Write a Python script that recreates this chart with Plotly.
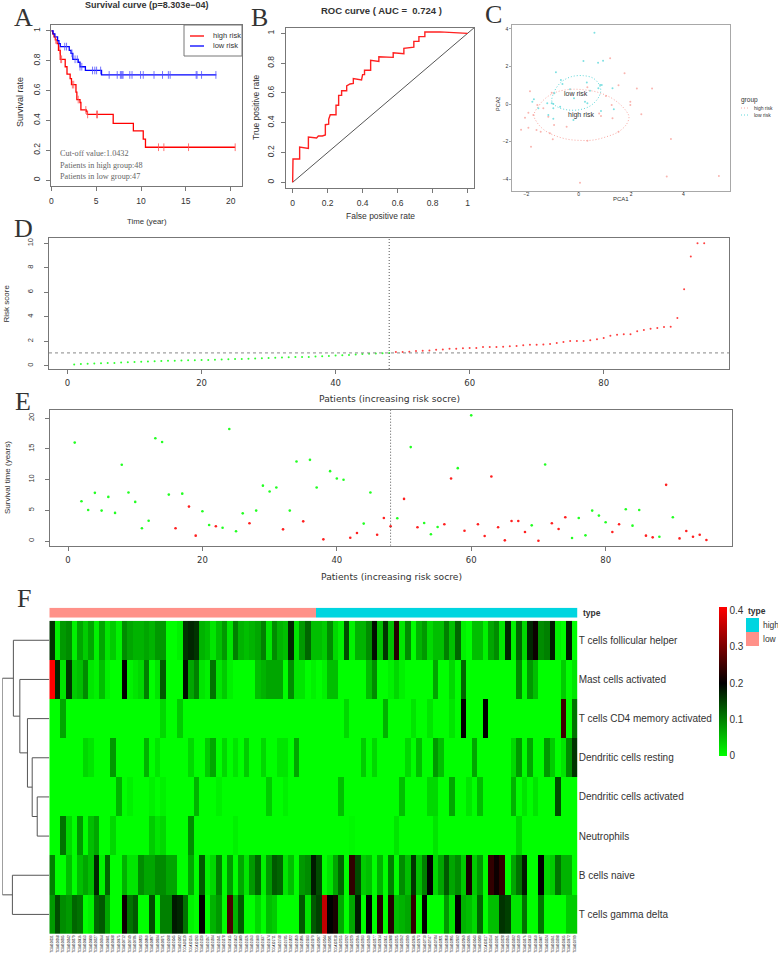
import plotly.graph_objects as go

W = 778
H = 955

# Panel A: Kaplan-Meier steps
high_time = [0, 0.15, 0.3, 0.45, 0.65, 0.8, 1.0, 1.4, 1.55, 1.75, 2.1, 2.25, 2.75, 2.85, 3.2, 3.3, 3.9, 4.0, 6.9, 9.15, 10.25, 10.5, 20.5]
high_surv = [1.0, 0.98, 0.96, 0.94, 0.915, 0.87, 0.81, 0.81, 0.76, 0.71, 0.68, 0.64, 0.59, 0.54, 0.52, 0.47, 0.46, 0.44, 0.38, 0.33, 0.275, 0.22, 0.22]
high_censor = [0.5, 0.95, 1.05, 1.15, 2.35, 2.5, 3.0, 3.85, 4.05, 5.05, 5.15, 11.95, 12.55, 15.3, 20.5]
low_time = [0, 0.2, 0.4, 0.7, 0.85, 1.0, 2.0, 2.2, 2.4, 3.0, 3.2, 3.8, 5.6, 18.4]
low_surv = [1.0, 0.98, 0.96, 0.935, 0.915, 0.895, 0.87, 0.85, 0.81, 0.79, 0.76, 0.735, 0.705, 0.705]
low_censor = [1.5, 1.7, 2.3, 2.65, 2.9, 3.2, 3.4, 4.6, 4.85, 5.05, 5.5, 6.45, 7.35, 7.7, 7.8, 7.9, 8.0, 8.75, 9.0, 9.95, 10.25, 11.45, 12.4, 13.05, 13.25, 16.15, 16.25, 16.75, 18.35]

# Panel B: ROC curve
roc_fpr = [0, 0.002, 0.04, 0.04, 0.04, 0.09, 0.09, 0.137, 0.147, 0.17, 0.18, 0.187, 0.187, 0.206, 0.206, 0.215, 0.248, 0.248, 0.263, 0.263, 0.28, 0.28, 0.309, 0.309, 0.328, 0.347, 0.347, 0.394, 0.4, 0.411, 0.411, 0.446, 0.446, 0.493, 0.493, 0.575, 0.575, 0.636, 0.636, 0.661, 0.693, 0.693, 0.722, 0.722, 0.756, 0.756, 0.842, 1.0]
roc_tpr = [0, 0.157, 0.157, 0.177, 0.237, 0.228, 0.304, 0.298, 0.311, 0.311, 0.318, 0.318, 0.387, 0.391, 0.423, 0.454, 0.454, 0.517, 0.517, 0.584, 0.584, 0.615, 0.615, 0.647, 0.66, 0.664, 0.696, 0.687, 0.723, 0.723, 0.752, 0.752, 0.819, 0.812, 0.843, 0.839, 0.87, 0.864, 0.899, 0.904, 0.908, 0.946, 0.946, 0.978, 0.978, 1.009, 1.01, 1.0]
diag_x = [0, 1.037]
diag_y = [0, 1.037]

# Panel C: PCA
pca_high_x = [-2.20, -2.05, -1.92, -1.82, -1.86, -1.92, -1.73, -1.58, -1.61, -1.45, -1.35, -1.16, -1.10, -0.99, -1.03, -0.94, -0.46, 0.05, 0.33, 0.33, 0.78, 0.85, 1.04, 1.29, 1.20, 1.52, 1.75, 1.97, 1.97, 2.22, 2.39, 2.80, 3.52, 3.36, 5.35, 1.52, 1.26]
pca_high_y = [-1.37, -0.73, -1.26, -2.28, 0.68, -0.46, -0.59, -0.05, -1.39, -1.48, -0.23, -0.68, -1.56, -1.88, 0.60, -1.12, -1.21, -4.2, -1.96, 0.89, -0.50, -0.64, 0.43, -0.76, 2.44, 1.0, 1.64, 0.12, -0.05, 0.82, -0.55, 0.82, -1.87, -3.86, -3.84, -1.48, -0.05]
pca_low_x = [-1.77, -1.71, -1.54, -1.20, -1.03, -0.97, -0.93, -0.87, -0.68, -0.62, -0.33, -0.18, 0.18, 0.31, 0.24, 0.33, 0.60, 0.74, 0.93, 0.82, 0.88, 1.29, 0.85, 1.34, -0.20, -0.97, -1.16, 0.75, 0.43, -0.71, -0.97]
pca_low_y = [0.12, 0.25, -0.23, 0.04, 0.04, 0, 0.57, 1.69, 1.28, 1.07, 0.78, 0.30, 2.29, 1.14, 0.12, 0.04, 3.80, 2.20, 2.31, 1.01, 1.01, 0.84, -0.37, -0.28, -0.85, -0.78, -0.59, 0.84, 0.71, -0.14, -0.23]
ell_high_x = [-1.71, -1.50, -1.22, -0.84, -0.33, 0.18, 0.69, 1.20, 1.58, 1.83, 1.92, 1.83, 1.52, 1.07, 0.56, 0.05, -0.46, -0.97, -1.35, -1.61, -1.71]
ell_high_y = [-0.59, -0.05, 0.36, 0.64, 0.78, 0.76, 0.64, 0.36, -0.02, -0.41, -0.68, -1.07, -1.48, -1.74, -1.92, -1.94, -1.87, -1.65, -1.35, -0.94, -0.59]
ell_low_x = [-1.03, -0.90, -0.65, -0.27, 0.18, 0.56, 0.79, 0.84, 0.71, 0.43, 0.05, -0.39, -0.78, -0.99, -1.03]
ell_low_y = [0.21, 0.75, 1.19, 1.46, 1.51, 1.37, 1.01, 0.66, 0.25, -0.11, -0.30, -0.32, -0.18, 0.04, 0.21]

# Panel D: risk score per patient, green then red
patient_ids = list(range(1, 96))
risk_score = [0.1, 0.13, 0.15, 0.17, 0.2, 0.21, 0.23, 0.26, 0.29, 0.3,
              0.32, 0.34, 0.37, 0.39, 0.4, 0.41, 0.42, 0.44, 0.45, 0.46,
              0.47, 0.49, 0.5, 0.52, 0.54, 0.55, 0.57, 0.59, 0.6, 0.63,
              0.65, 0.67, 0.69, 0.7, 0.71, 0.72, 0.75, 0.77, 0.8, 0.83,
              0.86, 0.88, 0.91, 0.95, 0.97, 0.99, 1.02, 1.04,
              1.12, 1.12, 1.14, 1.2, 1.23, 1.25, 1.31, 1.33, 1.39, 1.39,
              1.42, 1.44, 1.44, 1.53, 1.53, 1.53, 1.55, 1.58, 1.61, 1.66,
              1.72, 1.72, 1.74, 1.77, 1.85, 1.93, 2.02, 2.02, 2.02, 2.07,
              2.15, 2.26, 2.45, 2.53, 2.56, 2.56, 2.81, 2.92, 3.02, 3.08,
              3.16, 3.19, 3.9, 6.24, 8.91, 10, 10]
cutoff_value = 1.0432
cutoff_patient = 48

# Panel E: survival time, status g = alive, r = dead
surv_years = [16.0, 6.47, 5.05, 7.83, 4.95, 7.17, 4.57, 12.4, 7.88, 6.36,
              2.07, 3.3, 16.7, 16.1, 7.55, 2.07, 7.7, 5.6, 0.87, 4.84,
              2.6, 2.4, 2.17, 18.2, 1.58, 4.5, 2.88, 4.95, 9.0, 8.04,
              8.7, 1.9, 4.95, 12.93, 3.2, 13.2, 8.7, 0.27, 11.36, 10.16,
              9.95, 0.54, 1.3, 2.83, 7.88, 1.03, 3.75, 2.4, 3.7, 6.85,
              15.27, 2.23, 2.93, 1.09, 2.28, 2.72, 10.16, 11.85, 1.68, 20.43,
              2.72, 0.82, 10.49, 2.23, 0.11, 3.26, 3.26, 1.47, 2.55, 0.05,
              12.45, 2.88, 1.96, 3.86, 0.49, 3.75, 0.92, 4.95, 4.13, 3.04,
              1.47, 2.72, 5.16, 2.5, 5.05, 0.87, 0.6, 0.7, 9.13, 3.86,
              0.43, 1.63, 0.7, 1.03, 0.16]
surv_status = ["g", "g", "g", "g", "g", "g", "g", "g", "g", "g",
               "g", "g", "g", "g", "g", "r", "g", "r", "r", "g",
               "g", "r", "g", "g", "g", "g", "r", "g", "g", "g",
               "g", "r", "g", "g", "r", "g", "g", "r", "g", "g",
               "g", "r", "r", "g", "g", "r", "r", "r", "g", "r",
               "g", "r", "g", "g", "g", "r", "r", "g", "r", "g",
               "r", "r", "r", "r", "r", "r", "r", "r", "g", "r",
               "g", "r", "r", "r", "g", "g", "g", "g", "g", "g",
               "r", "r", "g", "g", "g", "r", "r", "g", "r", "g",
               "r", "r", "r", "r", "r"]

# Panel F: heatmap, 95 samples
cell_types = ["T cells follicular helper", "Mast cells activated", "T cells CD4 memory activated",
              "Dendritic cells resting", "Dendritic cells activated", "Neutrophils",
              "B cells naive", "T cells gamma delta"]
tfh = [0.16, 0.01, 0.08, 0.09, 0.01, 0.07, 0.04, 0.07, 0.01, 0.07,
       0.02, 0.04, 0.01, 0.09, 0.07, 0.06, 0.06, 0.07, 0.06, 0.08,
       0.08, 0, 0, 0.01, 0.16, 0.17, 0.16, 0.06, 0.05, 0.02,
       0.05, 0.08, 0.02, 0.1, 0.06, 0.05, 0.06, 0.07, 0.1, 0.02,
       0.09, 0.06, 0.05, 0.17, 0.02, 0.08, 0.12, 0.05, 0.05, 0.04,
       0.09, 0.03, 0.01, 0.14, 0.01, 0.06, 0.06, 0.09, 0.19, 0.05,
       0.16, 0.05, 0.23, 0.02, 0.09, 0, 0.06, 0.08, 0.03, 0.05,
       0.05, 0.1, 0.05, 0.12, 0.01, 0, 0.05, 0.05, 0.01, 0.07,
       0.09, 0.02, 0.17, 0.01, 0.12, 0.03, 0.17, 0.21, 0.09, 0.1,
       0.18, 0.01, 0, 0.18, 0]
mast = [0.41, 0.17, 0.02, 0.16, 0.04, 0.05, 0.09, 0.02, 0.01, 0.05,
        0.01, 0, 0, 0.2, 0.01, 0.02, 0.03, 0.1, 0, 0.02,
        0.13, 0, 0, 0, 0.19, 0.07, 0.1, 0.02, 0.01, 0.11,
        0.02, 0.04, 0.01, 0, 0, 0, 0, 0.05, 0.06, 0.07,
        0.07, 0.07, 0, 0.09, 0.02, 0.02, 0, 0.01, 0, 0.01,
        0.05, 0.05, 0, 0, 0, 0, 0, 0.05, 0.09, 0,
        0, 0.01, 0.03, 0.01, 0, 0, 0, 0, 0, 0.07,
        0, 0, 0.03, 0, 0.12, 0, 0, 0, 0, 0,
        0, 0, 0, 0, 0.09, 0, 0.08, 0.05, 0, 0,
        0, 0, 0.04, 0, 0.02]
cd4 = [0, 0, 0.07, 0, 0, 0, 0, 0, 0, 0,
       0, 0, 0, 0, 0, 0, 0, 0, 0, 0,
       0.03, 0, 0, 0.04, 0, 0, 0, 0, 0, 0,
       0, 0, 0, 0, 0, 0, 0, 0, 0, 0,
       0, 0, 0, 0, 0, 0, 0, 0, 0, 0,
       0, 0, 0, 0.03, 0, 0, 0, 0, 0, 0,
       0.06, 0, 0, 0, 0, 0.02, 0, 0, 0.02, 0,
       0, 0, 0.02, 0, 0.2, 0, 0, 0, 0.2, 0,
       0, 0, 0, 0, 0, 0, 0, 0, 0, 0,
       0, 0, 0.25, 0, 0.11]
dc_rest = [0, 0, 0, 0, 0, 0, 0.03, 0.02, 0, 0,
           0, 0.08, 0, 0, 0, 0, 0, 0.06, 0, 0.02,
           0, 0, 0, 0, 0, 0.03, 0, 0, 0.04, 0.07,
           0, 0.03, 0, 0.02, 0, 0.04, 0, 0, 0.03, 0,
           0, 0.02, 0.02, 0, 0.07, 0, 0, 0, 0, 0,
           0, 0, 0, 0, 0, 0, 0.04, 0, 0.03, 0,
           0, 0, 0, 0, 0.03, 0, 0.05, 0, 0, 0.08,
           0.05, 0, 0, 0, 0, 0, 0.07, 0, 0, 0,
           0, 0, 0, 0.03, 0.08, 0, 0.07, 0, 0, 0.08,
           0.04, 0, 0.02, 0.09, 0.16]
dc_act = [0, 0, 0, 0, 0, 0, 0, 0, 0, 0,
          0, 0, 0.06, 0, 0.01, 0, 0, 0, 0.01, 0,
          0.01, 0, 0, 0, 0, 0, 0.06, 0, 0, 0,
          0.01, 0, 0, 0, 0, 0, 0, 0, 0, 0.04,
          0, 0, 0.01, 0, 0, 0, 0, 0, 0, 0,
          0, 0, 0.05, 0, 0, 0, 0, 0, 0, 0,
          0, 0, 0, 0.05, 0, 0, 0, 0, 0.03, 0.03,
          0, 0, 0.07, 0, 0, 0.02, 0, 0.05, 0, 0,
          0, 0, 0, 0.06, 0, 0.02, 0, 0.02, 0, 0,
          0, 0.14, 0, 0, 0]
neutro = [0, 0, 0.11, 0.03, 0, 0.08, 0, 0.05, 0.07, 0,
          0, 0.03, 0, 0, 0, 0, 0, 0, 0.04, 0.02,
          0.03, 0, 0, 0, 0, 0.09, 0, 0, 0, 0,
          0, 0, 0, 0.01, 0, 0, 0, 0, 0, 0,
          0, 0, 0, 0, 0, 0, 0, 0, 0, 0,
          0, 0, 0, 0, 0.005, 0, 0, 0, 0, 0,
          0, 0, 0.02, 0, 0, 0, 0, 0, 0, 0.02,
          0, 0, 0, 0, 0, 0, 0, 0, 0, 0,
          0, 0, 0, 0, 0.03, 0, 0, 0, 0, 0,
          0, 0, 0, 0, 0]
b_naive = [0.1, 0, 0, 0.05, 0, 0.05, 0.07, 0.05, 0.17, 0.01,
           0.12, 0, 0, 0.06, 0.02, 0.02, 0.09, 0.07, 0.07, 0.09,
           0.09, 0.07, 0.07, 0, 0, 0.07, 0, 0.13, 0.01, 0.03,
           0.1, 0, 0.08, 0, 0.07, 0.02, 0.08, 0.12, 0.01, 0.08,
           0.13, 0.12, 0.02, 0.05, 0, 0.08, 0.09, 0.18, 0.14, 0,
           0.02, 0.07, 0.12, 0, 0.24, 0.14, 0.04, 0.05, 0, 0.06,
           0, 0.1, 0, 0.09, 0.05, 0.16, 0.05, 0.1, 0.2, 0.03,
           0.07, 0.13, 0.07, 0.09, 0.04, 0.22, 0.04, 0.08, 0, 0.24,
           0.21, 0.24, 0, 0.07, 0.11, 0.18, 0, 0, 0.2, 0.03,
           0.04, 0.11, 0.06, 0.06, 0]
gamma_delta = [0.08, 0.14, 0.09, 0.08, 0.12, 0.11, 0, 0.01, 0.12, 0.13,
               0.07, 0, 0, 0.21, 0.11, 0.13, 0, 0, 0.14, 0,
               0.1, 0.1, 0.18, 0.17, 0.11, 0.01, 0, 0.2, 0, 0.06,
               0.08, 0, 0.26, 0.06, 0.13, 0, 0, 0.03, 0, 0.05,
               0.04, 0, 0, 0, 0, 0.13, 0.02, 0.13, 0.15, 0.36,
               0.2, 0.22, 0.07, 0, 0.07, 0.18, 0, 0.2, 0, 0.23,
               0, 0.23, 0.05, 0.06, 0.07, 0.24, 0, 0.2, 0, 0,
               0, 0.08, 0.02, 0.2, 0.06, 0.05, 0.03, 0.12, 0, 0.05,
               0.05, 0.16, 0.15, 0.02, 0.02, 0.11, 0, 0, 0.11, 0,
               0, 0, 0, 0.04, 0.04]
sample_type = [0] * 48 + [1] * 47
sample_ids = ["TCGA%06d" % (100231 + 37 * i) for i in range(95)]
colorbar_ticks = [0, 0.1, 0.2, 0.3, 0.4]
colorbar_text = ["0", "0.1", "0.2", "0.3", "0.4"]

# merges for the row tree: two children and the height; ints are rows, tuples nested merges
node_cd = (4, 5, 0.257)
node_dc = (3, node_cd, 0.364)
node_cd4 = (2, node_dc, 0.465)
node_mast = (1, node_cd4, 0.627)
node_top = (0, node_mast, 0.764)
node_bottom = (6, 7, 0.785)
tree_root = (node_top, node_bottom, 1.0)

GREY = "#777777"
SANS = "Liberation Sans"
WIDE = "DejaVu Sans"


def domain_x(left, right):
    return [left / W, right / W]


def domain_y(top, bottom):
    return [1 - bottom / H, 1 - top / H]


def base_axis(rng, dom, anchor, tickvals=None, angle=0, size=8.5, family=SANS, standoff=0,
              ticklen=4, line=GREY):
    return dict(range=rng, domain=dom, anchor=anchor, showgrid=False, zeroline=False,
                showline=True, mirror=True, linecolor=line, linewidth=1.3,
                ticks="outside", ticklen=ticklen, tickwidth=1, tickcolor=line,
                ticklabelstandoff=standoff,
                tickmode="array", tickvals=tickvals, tickangle=angle,
                tickfont=dict(size=size, color="#333333", family=family),
                automargin=False)


def tree_segments(node):
    # returns the leaf position of a node plus the line pieces under it
    if isinstance(node, int):
        return node, 0.0, [], []
    pos_a, h_a, xs_a, ys_a = tree_segments(node[0])
    pos_b, h_b, xs_b, ys_b = tree_segments(node[1])
    h = node[2]
    xs = xs_a + xs_b + [h_a, h, h, h_b, None]
    ys = ys_a + ys_b + [pos_a, pos_a, pos_b, pos_b, None]
    return (pos_a + pos_b) / 2, h, xs, ys


def label(text, x, y, size=8.5, family=SANS, color="#333333", angle=0, anchor="center", bold=False):
    if bold:
        text = "<b>" + text + "</b>"
    return dict(text=text, x=x / W, y=1 - y / H, xref="paper", yref="paper", showarrow=False,
                xanchor=anchor, yanchor="middle", textangle=angle,
                font=dict(size=size, family=family, color=color))


def pixel_line(x0, y0, x1, y1, color, width=1.2, dash="solid"):
    return dict(type="line", xref="paper", yref="paper", x0=x0 / W, x1=x1 / W, y0=1 - y0 / H, y1=1 - y1 / H,
                line=dict(color=color, width=width, dash=dash))


def pixel_rect(x0, y0, x1, y1, fill, line="rgba(0,0,0,0)"):
    return dict(type="rect", xref="paper", yref="paper", x0=x0 / W, x1=x1 / W, y0=1 - y0 / H, y1=1 - y1 / H,
                fillcolor=fill, line=dict(color=line, width=1))


def step_value(times, values, t):
    result = values[0]
    for a, b in zip(times, values):
        if a <= t:
            result = b
    return result


fig = go.Figure()

# A
fig.add_trace(go.Scatter(x=high_time, y=high_surv, mode="lines", name="high risk",
                         line=dict(color="#FF0000", width=1.3, shape="hv"), xaxis="x", yaxis="y"))
fig.add_trace(go.Scatter(x=low_time, y=low_surv, mode="lines", name="low risk",
                         line=dict(color="#0000FF", width=1.3, shape="hv"), xaxis="x", yaxis="y"))
fig.add_trace(go.Scatter(x=high_censor, y=[step_value(high_time, high_surv, t) for t in high_censor], mode="markers",
                         marker=dict(symbol="line-ns", size=5.5, line=dict(color="#FF5050", width=0.8)), xaxis="x", yaxis="y"))
fig.add_trace(go.Scatter(x=low_censor, y=[step_value(low_time, low_surv, t) for t in low_censor], mode="markers",
                         marker=dict(symbol="line-ns", size=5.5, line=dict(color="#5050FF", width=0.8)), xaxis="x", yaxis="y"))

# B
fig.add_trace(go.Scatter(x=diag_x, y=diag_y, mode="lines", line=dict(color="#555555", width=1), xaxis="x2", yaxis="y2"))
fig.add_trace(go.Scatter(x=roc_fpr, y=roc_tpr, mode="lines", line=dict(color="#FF2020", width=1.4), xaxis="x2", yaxis="y2"))

# C
fig.add_trace(go.Scatter(x=pca_high_x, y=pca_high_y, mode="markers", name="high risk",
                         marker=dict(color="#F9B5B0", size=2), xaxis="x3", yaxis="y3"))
fig.add_trace(go.Scatter(x=pca_low_x, y=pca_low_y, mode="markers", name="low risk",
                         marker=dict(color="#7FE0E2", size=2), xaxis="x3", yaxis="y3"))
fig.add_trace(go.Scatter(x=ell_high_x, y=ell_high_y, mode="lines", line=dict(color="#F9A8A2", width=1, dash="1px,2px", shape="spline"), xaxis="x3", yaxis="y3"))
fig.add_trace(go.Scatter(x=ell_low_x, y=ell_low_y, mode="lines", line=dict(color="#5FD8DA", width=1, dash="1px,2px", shape="spline"), xaxis="x3", yaxis="y3"))

# D
green_red = ["#30FF30"] * 48 + ["#FF4040"] * 47
fig.add_trace(go.Scatter(x=patient_ids, y=risk_score, mode="markers",
                         marker=dict(color=green_red, size=2), xaxis="x4", yaxis="y4"))
fig.add_trace(go.Scatter(x=[-2.76, 98.7], y=[cutoff_value, cutoff_value], mode="lines",
                         line=dict(color="#888888", width=1, dash="3px,3px"), xaxis="x4", yaxis="y4"))
fig.add_trace(go.Scatter(x=[cutoff_patient, cutoff_patient], y=[-0.27, 10.43], mode="lines",
                         line=dict(color="#555555", width=1, dash="1px,2px"), xaxis="x4", yaxis="y4"))

# E
status_colors = ["#22FF22" if s == "g" else "#FF2020" for s in surv_status]
fig.add_trace(go.Scatter(x=patient_ids, y=surv_years, mode="markers",
                         marker=dict(color=status_colors, size=2.6), xaxis="x5", yaxis="y5"))
fig.add_trace(go.Scatter(x=[cutoff_patient, cutoff_patient], y=[-0.76, 21.3], mode="lines",
                         line=dict(color="#555555", width=1, dash="1px,2px"), xaxis="x5", yaxis="y5"))

# F
heat_rows = [tfh, mast, cd4, dc_rest, dc_act, neutro, b_naive, gamma_delta]
heat_scale = [[0, "#00FF00"], [0.2 / 0.41, "#000000"], [1, "#FF0000"]]
fig.add_trace(go.Heatmap(z=heat_rows, x=list(range(95)), y=list(range(8)), zmin=0, zmax=0.41,
                         colorscale=heat_scale, xaxis="x6", yaxis="y6",
                         colorbar=dict(x=719 / W, xanchor="left", xpad=0, ypad=0, thickness=8,
                                       y=1 - 606.7 / H, yanchor="top", len=149.3 / H, outlinewidth=0,
                                       tickmode="array", tickvals=colorbar_ticks, ticktext=colorbar_text,
                                       ticks="", tickfont=dict(size=10, family=SANS, color="#333333"))))
fig.add_trace(go.Heatmap(z=[sample_type], x=list(range(95)), y=[0], zmin=0, zmax=1,
                         colorscale=[[0, "#FF9189"], [1, "#00D5E0"]], showscale=False, xaxis="x7", yaxis="y7"))
_, _, tree_x, tree_y = tree_segments(tree_root)
fig.add_trace(go.Scatter(x=tree_x, y=tree_y, mode="lines", line=dict(color="#555555", width=1), xaxis="x8", yaxis="y8"))

hidden = dict(showgrid=False, zeroline=False, showticklabels=False, ticks="", showline=False)

annotations = [
    label("Survival curve (p=8.303e−04)", 147, 5.5, size=9, bold=True),
    label("ROC curve ( AUC =  0.724 )", 381, 11, size=9.5, bold=True),
    label("A", 23, 17, size=26, family="Liberation Serif"),
    label("B", 259, 18, size=26, family="Liberation Serif"),
    label("C", 493, 15, size=26, family="Liberation Serif"),
    label("D", 23, 228, size=26, family="Liberation Serif"),
    label("E", 23, 402, size=26, family="Liberation Serif"),
    label("F", 24, 598, size=26, family="Liberation Serif"),
    label("Time (year)", 147, 222, size=7.8),
    label("Survival rate", 20, 102, size=9, angle=-90),
    label("False positive rate", 380, 216, size=8.5),
    label("True positive rate", 256, 107, size=8.5, angle=-90),
    label("PCA1", 621, 199, size=6),
    label("PCA2", 498, 104, size=5.5, angle=-90),
    label("Risk score", 5.5, 304, size=8, angle=-90),
    label("Survival time (years)", 7, 478, size=8, angle=-90),
    label("Patients (increasing risk socre)", 390, 398, size=9.2, family=WIDE),
    label("Patients (increasing risk socre)", 391, 576, size=9.2, family=WIDE),
    label("Cut-off value:1.0432", 58, 153, size=8.2, family="Liberation Serif", color="#666666", anchor="left"),
    label("Patients in high group:48", 58, 165, size=8.2, family="Liberation Serif", color="#666666", anchor="left"),
    label("Patients in low group:47", 58, 177, size=8.2, family="Liberation Serif", color="#666666", anchor="left"),
    label("high risk", 211, 36, size=7.5, anchor="left"),
    label("low risk", 211, 46, size=7.5, anchor="left"),
    label("low risk", 576, 93, size=7),
    label("high risk", 581, 115, size=7),
    label("group", 739, 100, size=6.5, anchor="left"),
    label("high risk", 752, 108, size=5, anchor="left"),
    label("low risk", 752, 115, size=5, anchor="left"),
    label("type", 581, 613, size=8.5, anchor="left", bold=True),
    label("type", 746, 611, size=8.5, anchor="left", bold=True),
    label("high", 761, 625, size=8.5, anchor="left"),
    label("low", 761, 639, size=8.5, anchor="left"),
]

shapes = [
    pixel_rect(184, 25, 242, 56, "#FFFFFF", GREY),
    pixel_line(190, 36, 204, 36, "#FF0000", 1.3),
    pixel_line(190, 46, 204, 46, "#0000FF", 1.3),
    pixel_line(741, 108, 749, 108, "#F9A8A2", 1, "1px,2px"),
    pixel_line(741, 115, 749, 115, "#5FD8DA", 1, "1px,2px"),
    pixel_rect(746, 618, 759, 632, "#00D5E0"),
    pixel_rect(746, 632, 759, 646, "#FF9189"),
]

fig.update_layout(
    width=W, height=H, autosize=False, showlegend=False,
    margin=dict(l=0, r=0, t=0, b=0, pad=0),
    paper_bgcolor="white", plot_bgcolor="white",
    annotations=annotations, shapes=shapes,
    xaxis=base_axis([0, 21.26], domain_x(51.3, 242), "y", [0, 5, 10, 15, 20], standoff=3),
    yaxis=base_axis([-0.04, 1.04], domain_y(25, 186), "x", [0, 0.2, 0.4, 0.6, 0.8, 1.0], angle=-90, standoff=3),
    xaxis2=base_axis([-0.038, 1.037], domain_x(286, 474), "y2", [0, 0.2, 0.4, 0.6, 0.8, 1.0], standoff=2),
    yaxis2=base_axis([-0.04, 1.038], domain_y(27.7, 188.3), "x2", [0, 0.2, 0.4, 0.6, 0.8, 1.0], angle=-90, standoff=3),
    xaxis3=base_axis([-2.546, 5.775], domain_x(512, 730), "y3", [-2, 0, 2, 4], size=5, ticklen=1.5, line="#A8A8A8", standoff=-3),
    yaxis3=base_axis([-4.62, 4.21], domain_y(25, 190.7), "x3", [-4, -2, 0, 2, 4], size=5, ticklen=1.5, line="#A8A8A8"),
    xaxis4=base_axis([-2.76, 98.7], domain_x(49, 729), "y4", [0, 20, 40, 60, 80], size=8.5, family=WIDE, standoff=2),
    yaxis4=base_axis([-0.27, 10.43], domain_y(238, 369), "x4", [0, 2, 4, 6, 8, 10], angle=-90, size=7.5, standoff=8),
    xaxis5=base_axis([-2.68, 98.76], domain_x(50, 731.7), "y5", [0, 20, 40, 60, 80], size=8.5, family=WIDE, standoff=2),
    yaxis5=base_axis([-0.76, 21.3], domain_y(410, 545.7), "x5", [0, 5, 10, 15, 20], angle=-90, size=7.5, standoff=8),
    xaxis6=dict(range=[-0.5, 94.5], domain=domain_x(49.3, 577.7), anchor="y6", showgrid=False, zeroline=False,
                tickmode="array", tickvals=list(range(95)), ticktext=sample_ids, tickangle=-90, ticks="",
                tickfont=dict(size=2.8, family=SANS, color="#000000"), showline=False, automargin=False),
    yaxis6=dict(range=[7.5, -0.5], domain=domain_y(620.7, 934), anchor="x6", side="right", showgrid=False, zeroline=False,
                tickmode="array", tickvals=list(range(8)), ticktext=cell_types, ticks="",
                tickfont=dict(size=10, family=SANS, color="#333333"), showline=False, automargin=False),
    xaxis7=dict(range=[-0.5, 94.5], domain=domain_x(49.3, 577.7), anchor="y7", **hidden),
    yaxis7=dict(range=[-0.5, 0.5], domain=domain_y(607.7, 617.7), anchor="x7", **hidden),
    xaxis8=dict(range=[1.0, 0], domain=domain_x(2.3, 49.3), anchor="y8", **hidden),
    yaxis8=dict(range=[7.5, -0.5], domain=domain_y(620.7, 934), anchor="x8", **hidden),
)

fig.write_html("out.html", config={"displayModeBar": False}, post_script="document.body.style.margin='0';")
